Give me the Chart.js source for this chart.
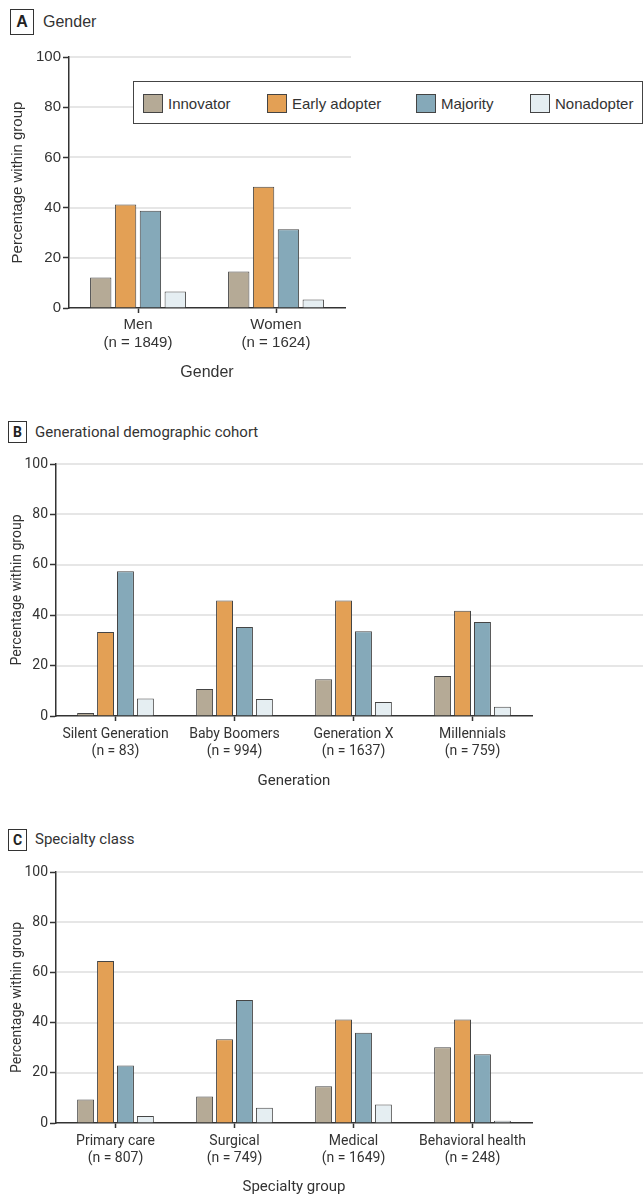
<!DOCTYPE html>
<html>
<head>
<meta charset="utf-8">
<script src="https://cdn.jsdelivr.net/npm/chart.js@4.4.1/dist/chart.umd.min.js"></script>
<style>
  body { margin: 0; background: #fff; width: 643px; height: 1196px; position: relative; overflow: hidden; color: #333; }
  .wrap { position: absolute; left: 0; width: 643px; }
  .box { position: absolute; border: 1px solid #333; box-sizing: border-box; text-align: center; font-weight: bold; color: #222; }
  .ttl { position: absolute; white-space: nowrap; color: #333; }
  .wide { font-family: "Liberation Sans", Arial, sans-serif; }
  .narrow { font-family: Roboto, "Liberation Sans", sans-serif; }
  #legend { position: absolute; left: 133px; top: 81px; width: 510px; height: 43px; border: 1px solid #444; box-sizing: border-box; background: #fff; }
  .sw { position: absolute; top: 12px; width: 20px; height: 19px; border: 1px solid #444; box-sizing: border-box; }
  .lt { position: absolute; top: 12px; line-height: 19px; font-size: 15px; color: #333; font-family: "Liberation Sans", Arial, sans-serif; }
</style>
</head>
<body>

<div class="box wide" style="left:10px;top:9px;width:24px;height:26px;line-height:24px;font-size:16px;">A</div>
<div class="ttl wide" style="left:43px;top:12px;font-size:16px;line-height:20px;">Gender</div>
<div class="wrap" style="top:40px;height:345px;"><canvas id="chartA"></canvas></div>
<div id="legend"></div>

<div class="box narrow" style="left:8px;top:421px;width:19px;height:22px;line-height:20px;font-size:14px;">B</div>
<div class="ttl narrow" style="left:35px;top:422px;font-size:15px;line-height:20px;">Generational demographic cohort</div>
<div class="wrap" style="top:450px;height:345px;"><canvas id="chartB"></canvas></div>

<div class="box narrow" style="left:8px;top:829px;width:19px;height:22px;line-height:20px;font-size:14px;">C</div>
<div class="ttl narrow" style="left:35px;top:829px;font-size:15px;line-height:20px;">Specialty class</div>
<div class="wrap" style="top:860px;height:336px;"><canvas id="chartC"></canvas></div>

<script>
// series
const seriesNames = ['Innovator', 'Early adopter', 'Majority', 'Nonadopter'];
const seriesColors = ['#b5aa96', '#e3a055', '#85a9b9', '#e5eef2'];
const yTicks = [0, 20, 40, 60, 80, 100];

// A - gender
const genderLabels = [['Men', '(n = 1849)'], ['Women', '(n = 1624)']];
const genderInnovator = [12.2, 14.5];
const genderEarly = [41.2, 48.3];
const genderMajority = [38.7, 31.4];
const genderNon = [6.6, 3.4];

// B - generation
const genLabels = [['Silent Generation', '(n = 83)'], ['Baby Boomers', '(n = 994)'], ['Generation X', '(n = 1637)'], ['Millennials', '(n = 759)']];
const genInnovator = [1.2, 10.7, 14.6, 15.9];
const genEarly = [33.3, 45.8, 45.8, 41.8];
const genMajority = [57.4, 35.3, 33.6, 37.3];
const genNon = [6.9, 6.7, 5.6, 3.7];

// C - specialty
const specLabels = [['Primary care', '(n = 807)'], ['Surgical', '(n = 749)'], ['Medical', '(n = 1649)'], ['Behavioral health', '(n = 248)']];
const specInnovator = [9.4, 10.6, 14.6, 30.2];
const specEarly = [64.5, 33.4, 41.2, 41.2];
const specMajority = [22.9, 49.0, 36.0, 27.4];
const specNon = [2.8, 6.1, 7.4, 0.9];

// legend
let lg = document.getElementById('legend');
const swX = [9, 133, 282, 396];
seriesNames.forEach(function (n, i) {
    lg.innerHTML += '<div class="sw" style="left:' + swX[i] + 'px;background:' + seriesColors[i] + '"></div>' +
        '<div class="lt" style="left:' + (swX[i] + 25) + 'px">' + n + '</div>';
});

// horizontal gridlines, drawn out to a given x
const gridExt = {
    id: 'gridExt',
    beforeDatasetsDraw: function (chart, args, opts) {
        let ctx = chart.ctx;
        let y = chart.scales.y;
        ctx.save();
        ctx.strokeStyle = '#dedede';
        ctx.lineWidth = 1.5;
        y.ticks.forEach(function (t) {
            if (t.value === 0) return;
            let py = Math.round(y.getPixelForValue(t.value));
            ctx.beginPath();
            ctx.moveTo(chart.chartArea.left + 1, py);
            ctx.lineTo(opts.right, py);
            ctx.stroke();
        });
        ctx.restore();
    }
};

function grafico(id, labels, series, cfg) {
    let ctx = document.getElementById(id).getContext('2d');
    let data = {
        labels: labels,
        datasets: series.map(function (valores, i) {
            return {
                label: seriesNames[i],
                data: valores,
                backgroundColor: seriesColors[i],
                borderColor: '#454545',
                borderWidth: 1,
                borderSkipped: 'start',
                categoryPercentage: cfg.catPct,
                barPercentage: cfg.barPct
            };
        })
    };
    return new Chart(ctx, {
        type: 'bar',
        data: data,
        options: {
            responsive: true,
            maintainAspectRatio: false,
            animation: false,
            layout: {padding: {top: cfg.top, right: cfg.right, left: 0, bottom: 0}},
            plugins: {
                legend: {display: false},
                tooltip: {enabled: false},
                gridExt: {right: cfg.gridRight}
            },
            scales: {
                x: {
                    grid: {offset: false, drawOnChartArea: false, tickLength: 5, tickColor: '#333', tickWidth: 1.5},
                    border: {color: '#333', width: 1.5},
                    ticks: {color: '#333', padding: cfg.tickPad, autoSkip: false, maxRotation: 0, minRotation: 0,
                        font: {family: cfg.font, size: cfg.tickSize}},
                    title: {display: true, text: cfg.xTitle, color: '#333', font: {family: cfg.font, size: cfg.titleSize}, padding: {top: 0, bottom: cfg.xTitlePad}},
                    afterFit: function (s) { s.height = cfg.xHeight; }
                },
                y: {
                    min: 0,
                    max: 100,
                    afterBuildTicks: function (s) { s.ticks = yTicks.map(function (v) { return {value: v}; }); },
                    grid: {drawOnChartArea: false, tickLength: 6, tickColor: '#333', tickWidth: 1.5},
                    border: {color: '#333', width: 1.5},
                    ticks: {color: '#333', padding: 2, font: {family: cfg.font, size: cfg.tickSize}},
                    title: {display: true, text: 'Percentage within group', color: '#333', font: {family: cfg.font, size: cfg.tickSize}, padding: {top: cfg.yTitlePad, bottom: 0}},
                    afterFit: function (s) { s.width = cfg.yWidth; }
                }
            }
        },
        plugins: [gridExt]
    });
}

const wideFont = '"Liberation Sans", Arial, sans-serif';
const narrowFont = 'Roboto, "Liberation Sans", sans-serif';

grafico('chartA', genderLabels, [genderInnovator, genderEarly, genderMajority, genderNon], {
    font: wideFont, tickSize: 15, titleSize: 16, tickPad: 3, top: 17, right: 298, yWidth: 69, xHeight: 77, xTitle: 'Gender', xTitlePad: 3,
    yTitlePad: 9, catPct: 0.72, barPct: 0.86, gridRight: 351
});
grafico('chartB', genLabels, [genInnovator, genEarly, genMajority, genNon], {
    font: narrowFont, tickSize: 14, titleSize: 15, tickPad: 5, top: 14, right: 111, yWidth: 56, xHeight: 79, xTitle: 'Generation', xTitlePad: 5,
    yTitlePad: 9, catPct: 0.67, barPct: 0.85, gridRight: 643
});
grafico('chartC', specLabels, [specInnovator, specEarly, specMajority, specNon], {
    font: narrowFont, tickSize: 14, titleSize: 15, tickPad: 5, top: 12, right: 111, yWidth: 56, xHeight: 73, xTitle: 'Specialty group', xTitlePad: 0,
    yTitlePad: 9, catPct: 0.67, barPct: 0.85, gridRight: 643
});
</script>
</body>
</html>
